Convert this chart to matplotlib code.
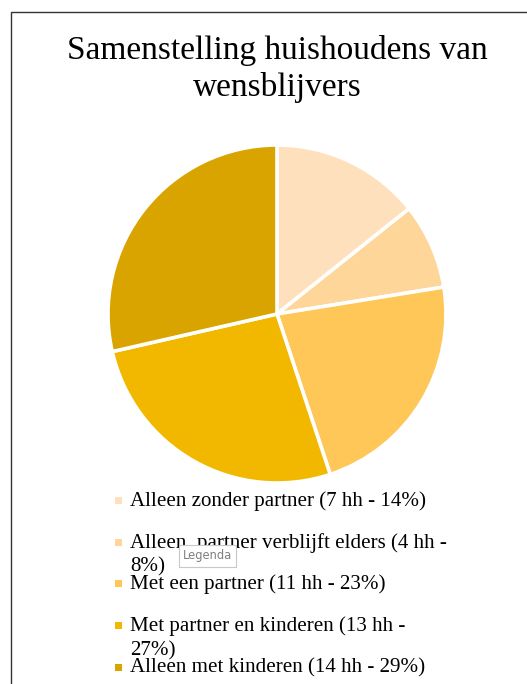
import matplotlib.pyplot as plt
from matplotlib.patches import Rectangle

# data
labels = ['Alleen zonder partner (7 hh - 14%)',
          'Alleen, partner verblijft elders (4 hh -\n8%)',
          'Met een partner (11 hh - 23%)',
          'Met partner en kinderen (13 hh -\n27%)',
          'Alleen met kinderen (14 hh - 29%)']
households = [7, 4, 11, 13, 14]
colours = ['#FFE0BC', '#FFD699', '#FFC658', '#F2B800', '#D9A300']
title = 'Samenstelling huishoudens van\nwensblijvers'

W, H = 527, 684
fig = plt.figure(figsize=(W / 100, H / 100), dpi=100)

# frame around the chart area (runs off right and bottom)
fig.add_artist(Rectangle((10.5 / W, -0.1), 1.2, (H - 12) / H + 0.1,
                         transform=fig.transFigure, fill=False,
                         edgecolor='#333333', linewidth=1.0))

fig.text(277 / W, 1 - 69 / H, title, ha='center', va='center',
         family='Liberation Serif', fontsize=24, linespacing=1.28)

cx, cy, r = 277, 314, 169
ax = fig.add_axes([(cx - r) / W, (H - cy - r) / H, 2 * r / W, 2 * r / H])
ax.pie(households, colors=colours, startangle=90, counterclock=False,
       wedgeprops=dict(edgecolor='white', linewidth=2.6))
ax.set_xlim(-1, 1)
ax.set_ylim(-1, 1)
ax.set_aspect('equal')
ax.axis('off')

# legend
y0 = 500
for i, (lab, col) in enumerate(zip(labels, colours)):
    y = y0 + i * 41.7
    fig.add_artist(Rectangle((115 / W, 1 - (y + 4) / H), 7 / W, 7 / H,
                             transform=fig.transFigure, color=col, linewidth=0))
    lines = lab.split('\n')
    for j, line in enumerate(lines):
        fig.text(130 / W, 1 - (y + 6 + j * 24) / H, line, ha='left', va='baseline',
                 family='Liberation Serif', fontsize=15.1)

# tooltip overlay
fig.text(183 / W, 1 - 556 / H, 'Legenda', ha='left', va='center',
         family='DejaVu Sans', fontsize=8.3, color='#808080',
         bbox=dict(boxstyle='square,pad=0.35', facecolor='white',
                   edgecolor='#c8c8c8', linewidth=0.8))

fig.savefig('out.png', dpi=100)
